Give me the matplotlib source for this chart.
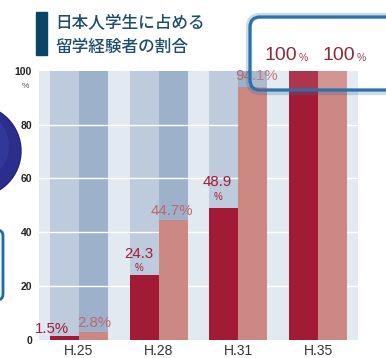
import matplotlib.pyplot as plt
import matplotlib.transforms as mtransforms
import numpy as np
from matplotlib.patches import Circle, FancyBboxPatch

# data
years = ["H.25", "H.28", "H.31", "H.35"]
series_a = [1.5, 24.3, 48.9, 100]
series_b = [2.8, 44.7, 94.1, 100]
yticks = [0, 20, 40, 60, 80, 100]
title_lines = ["日本人学生に占める", "留学経験者の割合"]

RED = "#a21b34"
PINK = "#cc8883"
BG_A = "#bdcbdc"
BG_B = "#9db2ca"
AX_BG = "#e2e9f1"
NUM_FONT = "Liberation Sans"

fig = plt.figure(figsize=(3.86, 3.58), dpi=100)
ax = fig.add_axes([39 / 386, 1 - 340 / 358, 319 / 386, (340 - 70.7) / 358])
ax.set_facecolor(AX_BG)

x = np.arange(len(years))
w = 0.3625
ax.bar(x - w / 2, [100] * len(x), w, color=BG_A, zorder=1)
ax.bar(x + w / 2, [100] * len(x), w, color=BG_B, zorder=1)
ax.bar(x - w / 2, series_a, w, color=RED, zorder=3)
ax.bar(x + w / 2, series_b, w, color=PINK, zorder=3)

ax.set_xlim(-0.5, 3.5)
ax.set_ylim(0, 100)
ax.set_yticks(yticks)
ax.set_yticklabels([str(t) for t in yticks], fontsize=7.5, color="#222222",
                   family=NUM_FONT, fontweight="bold")
ax.set_xticks(x)
ax.set_xticklabels(years, fontsize=10, color="#333333", family=NUM_FONT)
ax.tick_params(length=0)
ax.tick_params(axis="y", pad=5)
ax.tick_params(axis="x", pad=3)
for s in ax.spines.values():
    s.set_visible(False)
for t in yticks[1:-1]:
    ax.axhline(t, color="white", lw=1, zorder=2)
ax.text(-0.67, 95.5, "%", ha="center", va="top", fontsize=6, color="#555555",
        family=NUM_FONT, clip_on=False)


def label(xc, val, text, color, dx, dy, size=10.8):
    ax.annotate(text, (xc, val), xytext=(dx, dy), textcoords="offset points",
                ha="center", va="bottom", fontsize=size, color=color,
                family=NUM_FONT, zorder=5, annotation_clip=False)


label(x[0] - w / 2, series_a[0], "1.5%", RED, -9, 0)
label(x[0] + w / 2, series_b[0], "2.8%", "#c0666e", 1, 1.5)
label(x[1] - w / 2, series_a[1], "24.3", RED, -4, 10)
label(x[1] - w / 2, series_a[1], "%", RED, -4, 1, size=7)
label(x[1] + w / 2, series_b[1], "44.7%", "#c0666e", -1, 1.5)
label(x[2] - w / 2, series_a[2], "48.9", RED, -4.5, 14)
label(x[2] - w / 2, series_a[2], "%", RED, -4.5, 4.5, size=7)
label(x[2] + w / 2, series_b[2], "94.1%", "#c0666e", 3, 2.5)

# the framed 100% callout (drawn on top of the axes)
shadow = FancyBboxPatch((2.49, 2.66), 1.72, 0.76, boxstyle="round,pad=0,rounding_size=0.11",
                        transform=fig.dpi_scale_trans, facecolor="none",
                        edgecolor="#2f70a8", lw=4.5, alpha=0.25, zorder=9)
box = FancyBboxPatch((2.5, 2.68), 1.7, 0.73, boxstyle="round,pad=0,rounding_size=0.1",
                     transform=fig.dpi_scale_trans, facecolor=(1, 1, 1, 0.12),
                     edgecolor="#2f70a8", lw=2.3, zorder=10)
fig.patches.extend([shadow, box])


def px_shift(dx, dy):
    return ax.transData + mtransforms.ScaledTranslation(dx / 100, dy / 100, fig.dpi_scale_trans)


# offsets in pixels from each bar's top-centre
for xv, val, dx in [(x[3] - w / 2, series_a[3], -39), (x[3] + w / 2, series_b[3], -10)]:
    fig.text(xv, val, f"{val}", transform=px_shift(dx, 11), ha="left", va="baseline",
             fontsize=14, color="#8c2b3c", family=NUM_FONT, zorder=12)
    fig.text(xv, val, "%", transform=px_shift(dx + 34, 10), ha="left", va="baseline",
             fontsize=7.5, color="#9a4050", family=NUM_FONT, zorder=12)

# title block
fig.patches.append(plt.Rectangle((0.36, 3.03), 0.11, 0.43, transform=fig.dpi_scale_trans,
                                 color="#0a4566", zorder=5))
for i, line in enumerate(title_lines):
    fig.text(55 / 386, 1 - (23 + 24 * i) / 358, line, fontsize=12, color="#1e4d6b",
             family=["Noto Sans CJK JP", "DejaVu Sans"], fontweight="medium",
             va="center", ha="left")

# cropped decorations on the left edge
fig.patches.append(Circle((-0.25, 2.07), 0.46, transform=fig.dpi_scale_trans,
                          facecolor="#2c2e8e", edgecolor="#23256f", lw=1))
fig.patches.append(Circle((-0.27, 2.12), 0.36, transform=fig.dpi_scale_trans,
                          facecolor="#34379a", edgecolor="none"))
fig.patches.append(FancyBboxPatch((-0.3, 0.58), 0.33, 0.70,
                                  boxstyle="round,pad=0,rounding_size=0.06",
                                  transform=fig.dpi_scale_trans, facecolor="#f4f7fa",
                                  edgecolor="#1f6aa5", lw=2))

fig.savefig("out.png", dpi=100)
